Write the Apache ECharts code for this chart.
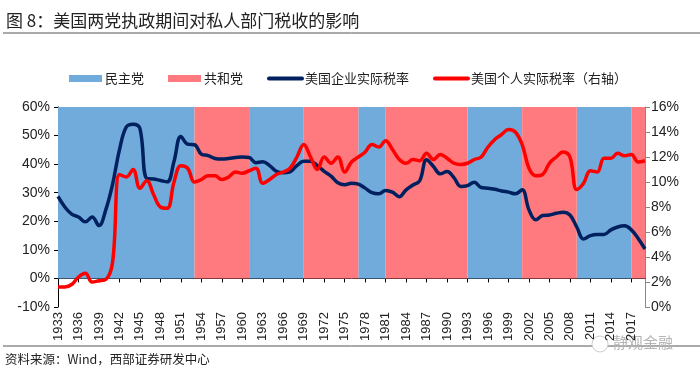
<!DOCTYPE html>
<html>
<head>
<meta charset="utf-8">
<script src="https://cdn.jsdelivr.net/npm/echarts@6/dist/echarts.min.js"></script>
<style>
  html, body { margin: 0; padding: 0; background: #fff; }
  #chart { width: 700px; height: 375px; }
</style>
</head>
<body>
<div id="chart"></div>
<script>
// 年份 1933-2019
var years = [];
for (var y = 1933; y <= 2019; y++) years.push(String(y));

// 美国企业实际税率（左轴，%）
var corpRate = [
  28.7, 25.0, 22.5, 21.5, 19.8, 21.5, 18.5, 24.0, 33.0, 45.0,
  53.0, 54.0, 52.5, 35.0, 34.8, 34.3, 33.8, 41.0, 49.7, 47.0,
  46.8, 43.5, 43.0, 42.0, 41.8, 42.0, 42.3, 42.5, 42.3, 40.5,
  40.8, 39.5, 37.5, 37.0, 37.3, 39.5, 41.0, 41.0, 39.5, 37.5,
  35.8, 33.5, 32.8, 33.3, 33.0, 31.6, 30.0, 29.6, 30.8, 30.2,
  28.6, 31.0, 32.7, 34.2, 41.5, 39.2, 36.6, 37.4, 35.3, 32.2,
  32.5, 33.7, 31.8, 31.6, 31.2, 30.6, 30.2, 29.6, 31.0, 24.0,
  20.5, 22.0, 22.2, 22.8, 23.2, 22.2, 18.0, 13.8, 15.0, 15.4,
  15.4, 17.0, 18.0, 18.4, 17.0, 14.0, 10.3
];

// 美国个人实际税率（右轴，%）
var personRate = [
  1.6, 1.6, 1.8, 2.4, 2.7, 2.0, 2.1, 2.2, 3.6, 10.6,
  10.4, 11.0, 9.5, 10.1, 9.0, 8.0, 7.9, 10.0, 11.3, 11.1,
  10.0, 10.2, 10.5, 10.5, 10.2, 10.4, 10.8, 10.7, 10.9, 11.1,
  9.9, 10.2, 10.6, 10.8, 11.1, 12.0, 13.0, 12.0, 11.0, 12.0,
  11.5, 12.0, 10.8, 11.6, 12.0, 12.4, 13.0, 12.8, 13.3, 12.6,
  11.8, 11.5, 11.8, 11.7, 12.3, 11.8, 12.2, 11.9, 11.5, 11.4,
  11.5, 11.8, 12.0, 12.8, 13.4, 13.8, 14.2, 14.0, 13.0, 11.1,
  10.5, 10.6, 11.5, 12.0, 12.4, 12.0, 9.4, 9.9, 10.9, 10.8,
  11.9, 11.9, 12.3, 12.1, 12.2, 11.6, 11.7
];

// 执政区间
var demSpans = [[1933, 1953], [1961, 1969], [1977, 1981], [1993, 2001], [2009, 2017]];
var repSpans = [[1953, 1961], [1969, 1977], [1981, 1993], [2001, 2009], [2017, 2019]];

var leftTicks = { min: -10, max: 60, interval: 10 };
var rightTicks = { min: 0, max: 16, interval: 2 };

function toAreas(spans) {
  return spans.map(function (s) {
    return [{ xAxis: String(s[0]), yAxis: 0 }, { xAxis: String(s[1]), yAxis: 60 }];
  });
}

var font = '"Noto Sans CJK SC", sans-serif';
var chart = echarts.init(document.getElementById('chart'));

var option = {
  animation: false,
  grid: { left: 58, right: 55, top: 107, bottom: 68 },
  legend: {
    left: 64,
    top: 67,
    itemWidth: 33,
    itemHeight: 7,
    itemGap: 24,
    textStyle: { fontFamily: font, fontSize: 13, color: '#222', padding: [0, 0, 0, -2] },
    data: [
      { name: '民主党', icon: 'rect' },
      { name: '共和党', icon: 'rect' },
      { name: '美国企业实际税率', itemStyle: { opacity: 0 }, lineStyle: { width: 4, cap: 'round' } },
      { name: '美国个人实际税率（右轴）', itemStyle: { opacity: 0 }, lineStyle: { width: 4, cap: 'round' } }
    ]
  },
  graphic: [
    { type: 'text', left: 6, top: 12, style: { text: '图 8：美国两党执政期间对私人部门税收的影响', font: '17px ' + font, fill: '#222' } },
    { type: 'line', shape: { x1: 3, y1: 33, x2: 700, y2: 33 }, style: { stroke: '#555', lineWidth: 1 } },
    { type: 'line', shape: { x1: 3, y1: 346, x2: 700, y2: 346 }, style: { stroke: '#555', lineWidth: 1 } },
    { type: 'text', left: 5, top: 353, style: { text: '资料来源：Wind，西部证券研发中心', font: '12.5px ' + font, fill: '#222' } },
    { type: 'circle', shape: { cx: 600, cy: 344, r: 8 }, style: { fill: '#fff', stroke: '#ccc', lineWidth: 1 } },
    { type: 'text', left: 613, top: 335, style: { text: '静观金融', font: '15px ' + font, fill: '#b5b5b5' } }
  ],
  xAxis: {
    type: 'category',
    data: years,
    boundaryGap: false,
    axisLine: { onZero: true, lineStyle: { color: '#000', width: 1 } },
    axisTick: { interval: 2, length: 4, lineStyle: { color: '#000' } },
    axisLabel: { interval: 2, rotate: 90, margin: 5, fontFamily: 'Liberation Sans, Arial', fontSize: 13, color: '#222' },
    splitLine: { show: false }
  },
  yAxis: [
    {
      type: 'value',
      min: leftTicks.min, max: leftTicks.max, interval: leftTicks.interval,
      axisLine: { show: true, lineStyle: { color: '#000' } },
      axisTick: { show: true, length: 4, lineStyle: { color: '#000' } },
      axisLabel: { formatter: '{value}%', fontFamily: 'Liberation Sans, Arial', fontSize: 14, color: '#222', margin: 8 },
      splitLine: { show: false }
    },
    {
      type: 'value',
      min: rightTicks.min, max: rightTicks.max, interval: rightTicks.interval,
      position: 'right',
      axisLine: { show: true, lineStyle: { color: '#888' } },
      axisTick: { show: true, length: 5, lineStyle: { color: '#888' } },
      axisLabel: { formatter: '{value}%', fontFamily: 'Liberation Sans, Arial', fontSize: 14, color: '#222', margin: 6 },
      splitLine: { show: false }
    }
  ],
  series: [
    {
      name: '民主党', type: 'line', data: [], color: '#70ABDB', z: 1, symbol: 'none',
      markArea: { silent: true, itemStyle: { color: '#70ABDB', opacity: 1 }, data: toAreas(demSpans) }
    },
    {
      name: '共和党', type: 'line', data: [], color: '#FF7A7E', z: 1, symbol: 'none',
      markArea: { silent: true, itemStyle: { color: '#FF7A7E', opacity: 1 }, data: toAreas(repSpans) }
    },
    {
      name: '美国企业实际税率', type: 'line', data: corpRate, yAxisIndex: 0,
      color: '#002060', smooth: 0.4, symbol: 'none', z: 5,
      lineStyle: { width: 3.5, color: '#002060' }
    },
    {
      name: '美国个人实际税率（右轴）', type: 'line', data: personRate, yAxisIndex: 1,
      color: '#FF0000', smooth: 0.4, symbol: 'none', z: 6,
      lineStyle: { width: 3.5, color: '#FF0000' }
    }
  ]
};

chart.setOption(option);
</script>
</body>
</html>
